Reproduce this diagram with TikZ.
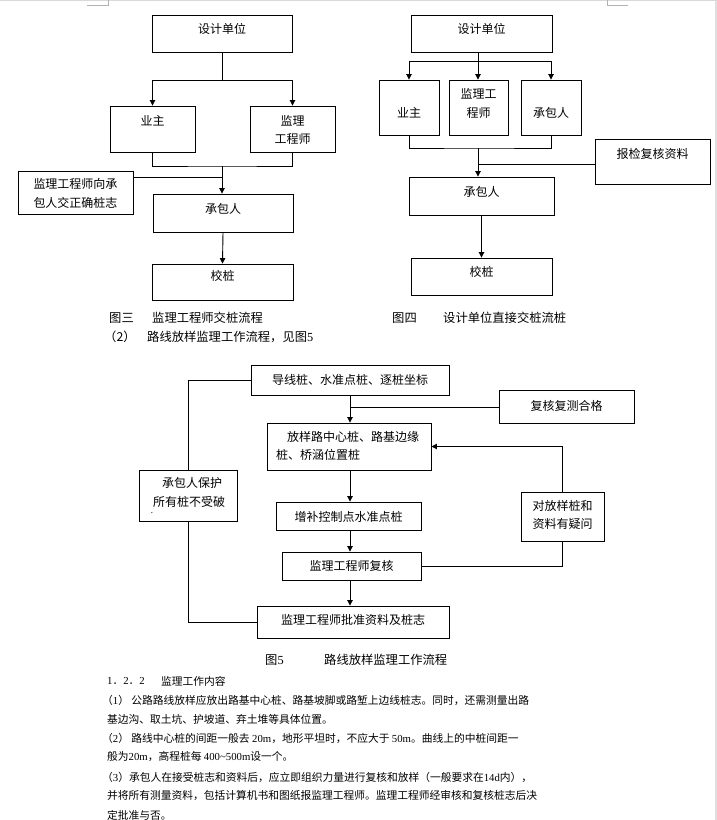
\documentclass[tikz,border=0pt]{standalone}
\usepackage{fontspec}
\setmainfont{Noto Sans CJK SC}
\newfontfamily\lat{Liberation Serif}
\usetikzlibrary{fit,arrows.meta}
\tikzset{
  fbox/.style={draw, line width=0.9pt, inner sep=0pt, rectangle},
  txt/.style={inner sep=0pt, font=\fontsize{12}{14}\selectfont},
  captxt/.style={inner sep=0pt, anchor=west, font=\fontsize{12.3}{14}\selectfont},
  bodytxt/.style={inner sep=0pt, anchor=west, font=\fontsize{10.75}{13}\selectfont},
  lnn/.style={line width=0.9pt},
  arrw/.style={line width=0.9pt, -{Triangle[length=5.5pt,width=5.5pt]}},
  pageedge/.style={draw=gray!30, line width=1pt}
}
\begin{document}
\begin{tikzpicture}[x=1pt,y=-1pt]
\useasboundingbox (0,0) rectangle (717,820);
\fill[white] (0,0) rectangle (717,820);
% page edge marks
\fill[gray!25] (714.5,0) rectangle (717,820);
\draw[pageedge] (0,0.5) -- (717,0.5);
\draw[draw=gray!60, line width=0.8pt] (87,5) -- (108,5) -- (108,0);
\draw[draw=gray!60, line width=0.8pt] (607,0) -- (607,5) -- (628,5);

% ===== Figure 3 =====
\node[fbox, fit={(152,15) (292,52)}] (d1) {};
\node[txt] at (222,29) {设计单位};
\node[fbox, fit={(110,106) (195,152)}] (o1) {};
\node[txt] at (152.5,121) {业主};
\node[fbox, fit={(250,106) (335,152)}] (s1) {};
\node[txt] at (292.5,121) {监理};
\node[txt] at (292.5,139) {工程师};
\node[fbox, fit={(18,171) (133,214)}] (n1) {};
\node[txt] at (75.5,184) {监理工程师向承};
\node[txt] at (75.5,203) {包人交正确桩志};
\node[fbox, fit={(153,194) (293,232)}] (c1) {};
\node[txt] at (223,209) {承包人};
\node[fbox, fit={(152,264) (293,300)}] (k1) {};
\node[txt] at (222.5,276) {校桩};

\coordinate (j1) at (222,80);
\coordinate (j2) at (222,166);
\coordinate (j3) at (222,177);
\draw[lnn] (d1.south) -- (j1);
\draw[arrw] (j1) -| (o1.north);
\draw[arrw] (j1) -| (s1.north);
\draw[lnn] (o1.south) |- (j2) -| (s1.south);
\draw[arrw] (j2) -- (j2 |- c1.north);
\draw[lnn] (n1.east |- j3) -- (j3);
\draw[arrw] (c1.south) -- (k1.north);

\node[captxt] (cap3a) at (109,318) {图三};
\node[captxt] (cap3b) at (152,318) {监理工程师交桩流程};
\node[captxt] (sub2a) at (104,337) {（2）};
\node[captxt] (sub2b) at (147,337) {路线放样监理工作流程，见图{\lat 5}};

% ===== Figure 4 =====
\node[fbox, fit={(411,15) (552,52)}] (d2) {};
\node[txt] at (481.5,29) {设计单位};
\node[fbox, fit={(379,80) (439,135)}] (o2) {};
\node[txt] at (409,113) {业主};
\node[fbox, fit={(449,80) (508,135)}] (s2) {};
\node[txt] at (478.5,94) {监理工};
\node[txt] at (478.5,113) {程师};
\node[fbox, fit={(521,80) (581,135)}] (c2) {};
\node[txt] at (551,113) {承包人};
\node[fbox, fit={(595,139) (710,184)}] (r2) {};
\node[txt] at (652.5,154) {报检复核资料};
\node[fbox, fit={(409,177) (554,215)}] (c3) {};
\node[txt] at (481.5,192) {承包人};
\node[fbox, fit={(411,258) (552,295)}] (k2) {};
\node[txt] at (481.5,272) {校桩};

\coordinate (j4) at (478,61);
\coordinate (j5) at (478,148);
\coordinate (j6) at (478,164);
\draw[lnn] (d2.south -| j4) -- (j4);
\draw[arrw] (j4) -| (o2.north);
\draw[arrw] (j4) -- (s2.north -| j4);
\draw[arrw] (j4) -| (c2.north);
\draw[lnn] (o2.south) |- (j5) -| (c2.south);
\draw[arrw] (j5) -- (j5 |- c3.north);
\draw[lnn] (j6) -- (j6 -| r2.west);
\draw[arrw] (c3.south) -- (k2.north);

\node[captxt] (cap4a) at (392,318) {图四};
\node[captxt] (cap4b) at (443,318) {设计单位直接交桩流桩};

% ===== Figure 5 =====
\node[fbox, fit={(251,365) (449,395)}] (A) {};
\node[txt] at (350,380) {导线桩、水准点桩、逐桩坐标};
\node[fbox, fit={(499,390) (634,423)}] (R) {};
\node[txt] at (566.5,406) {复核复测合格};
\node[fbox, fit={(267,423) (431,470)}] (B) {};
\node[txt, anchor=west] at (287,437) {放样路中心桩、路基边缘};
\node[txt, anchor=west] at (276,455) {桩、桥涵位置桩};
\node[fbox, fit={(139,470) (237,521)}] (P) {};
\node[txt] at (192,483) {承包人保护};
\node[txt] at (189,502) {所有桩不受破};
\node[inner sep=0pt, font=\fontsize{8}{8}\selectfont] at (152,513) {.};
\node[fbox, fit={(521,492) (604,541)}] (Q) {};
\node[txt] at (562.5,506) {对放样桩和};
\node[txt] at (562.5,524) {资料有疑问};
\node[fbox, fit={(276,502) (421,530)}] (Z) {};
\node[txt] at (348.5,517) {增补控制点水准点桩};
\node[fbox, fit={(282,552) (421,580)}] (V) {};
\node[txt] at (351.5,566) {监理工程师复核};
\node[fbox, fit={(257,606) (449,638)}] (F) {};
\node[txt] at (353,620) {监理工程师批准资料及桩志};

\coordinate (j7) at (350,407);
\draw[arrw] (A.south) -- (A.south |- B.north);
\draw[lnn] (j7) -- (j7 -| R.west);
\draw[lnn] (A.west) -| (P.north);
\draw[lnn] (P.south) |- (F.west);
\draw[arrw] (Q.north) |- (B.east);
\draw[lnn] (Q.south) |- (V.east);
\draw[arrw] (B.south -| A.south) -- (A.south |- Z.north);
\draw[arrw] (Z.south -| A.south) -- (A.south |- V.north);
\draw[arrw] (V.south -| A.south) -- (A.south |- F.north);

\node[captxt] (cap5a) at (265,660) {图{\lat 5}};
\node[captxt] (cap5b) at (324,660) {路线放样监理工作流程};

% ===== Body text =====
\node[bodytxt] (t0) at (107,681) {{\lat 1}．{\lat 2}．{\lat 2}};
\node[bodytxt] (t0b) at (161,681) {监理工作内容};
\node[bodytxt] (t1) at (102,700) {（{\lat 1}） 公路路线放样应放出路基中心桩、路基坡脚或路堑上边线桩志。同时，还需测量出路};
\node[bodytxt] (t2) at (107,719) {基边沟、取土坑、护坡道、弃土堆等具体位置。};
\node[bodytxt] (t3) at (102,738) {（{\lat 2}） 路线中心桩的间距一般去 {\lat 20m}，地形平坦时，不应大于 {\lat 50m}。曲线上的中桩间距一};
\node[bodytxt] (t4) at (107,757) {般为{\lat 20m}，高程桩每 {\lat 400\textasciitilde500m}设一个。};
\node[bodytxt] (t5) at (102,777) {（{\lat 3}）承包人在接受桩志和资料后，应立即组织力量进行复核和放样（一般要求在{\lat 14d}内），};
\node[bodytxt] (t6) at (107,796) {并将所有测量资料，包括计算机书和图纸报监理工程师。监理工程师经审核和复核桩志后决};
\node[bodytxt] (t7) at (107,815) {定批准与否。};
\end{tikzpicture}
\end{document}
